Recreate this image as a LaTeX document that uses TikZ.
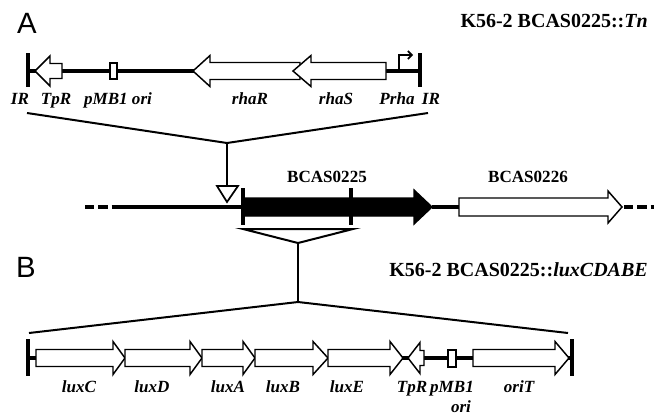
\documentclass[tikz,border=0pt]{standalone}
\usepackage{fontspec}
\setmainfont{Liberation Serif}
\newfontfamily\panelfont{Liberation Sans}
\usetikzlibrary{arrows.meta}
% #1 body end, #2 head base, #3 tip, #4 centre y, #5 body half, #6 head half, #7 fill
\newcommand\geneshape[7]{%
  \draw[geneline,fill=#7] (#1,{#4-#5}) -- (#2,{#4-#5}) -- (#2,{#4-#6}) -- (#3,#4)
    -- (#2,{#4+#6}) -- (#2,{#4+#5}) -- (#1,{#4+#5}) -- cycle;}
\begin{document}
\begin{tikzpicture}[x=0.75pt,y=-0.75pt,
  geneline/.style={line width=1.1pt,line join=miter},
  dna/.style={line width=3.2pt},
  irbar/.style={line width=3.6pt},
  thinline/.style={line width=1.5pt},
  lab/.style={font=\fontsize{12.8}{14}\selectfont\bfseries\itshape,inner sep=0pt,anchor=base},
  gname/.style={font=\fontsize{12.8}{14}\selectfont\bfseries,inner sep=0pt,anchor=base},
  ttl/.style={font=\fontsize{15}{17}\selectfont\bfseries,inner sep=0pt,anchor=base east},
  panel/.style={font=\panelfont\fontsize{22}{24}\selectfont,inner sep=0pt,anchor=base}]
\useasboundingbox (0,0) rectangle (663,415);

% ---------- panel labels and titles
\node[panel] (pA) at (27,33) {A};
\node[panel] (pB) at (26,277) {B};
\node[ttl] (tA) at (648,27) {K56-2 BCAS0225::\textit{Tn}};
\node[ttl] (tB) at (648,276) {K56-2 BCAS0225::\textit{luxCDABE}};

% ---------- top construct (transposon)
\draw[dna] (62,71) -- (385,71);
\draw[dna] (385,71) -- (420,71);
\draw[irbar] (28,53) -- (28,87);
\draw[irbar] (420,53) -- (420,87);
\draw[dna] (28,71) -- (36,71);
\geneshape{62}{50}{35}{71}{7.5}{15}{white}
\draw[geneline,fill=white] (110,63) rectangle (117,79);
\geneshape{300}{210}{193}{71}{8.5}{15.5}{white}
\geneshape{386}{311}{293}{71}{8.5}{15.5}{white}
\coordinate (prS) at (399,71);
\coordinate (prT) at (413,55);
\draw[line width=1.2pt,-{Straight Barb[length=3pt,width=6pt]}] (prS) |- (prT);

\node[lab] (lIR1) at (20,104) {IR};
\node[lab] (lTp1) at (56,104) {TpR};
\node[lab] (lpm1) at (118,104) {pMB1 ori};
\node[lab] (lrR) at (250,104) {rhaR};
\node[lab] (lrS) at (336,104) {rhaS};
\node[lab] (lPr) at (397,104) {Prha};
\node[lab] (lIR2) at (431,104) {IR};

% ---------- insertion lines top
\coordinate (tl) at (27,113);
\coordinate (tr) at (428,113);
\coordinate (tapex) at (227,143);
\coordinate (tdown) at (227,186);
\draw[thinline] (tl) -- (tapex) -- (tr);
\draw[thinline] (tapex) -- (tdown);
\draw[line width=1.3pt,line join=miter] (217,186) -- (238,186) -- (227,202) -- cycle;

% ---------- chromosome
\draw[line width=3.4pt,dash pattern=on 7 off 3] (85,207) -- (112,207);
\draw[line width=3.4pt] (112,207) -- (243,207);
\draw[line width=3.4pt] (432,207) -- (459,207);
\draw[line width=3.4pt,dash pattern=on 7 off 3] (624,207) -- (654,207);
\geneshape{243}{414}{432}{207}{9}{17}{black}
\geneshape{459}{608}{622}{207}{9}{16}{white}
\draw[irbar] (243,188) -- (243,225);
\draw[irbar] (351,188) -- (351,225);
\node[gname] (g25) at (327,182) {BCAS0225};
\node[gname] (g26) at (528,182) {BCAS0226};

% ---------- insertion lines bottom
\coordinate (bl) at (243,229);
\coordinate (br) at (353,229);
\coordinate (bapex) at (298,243);
\coordinate (bdown) at (298,302);
\coordinate (bbl) at (29,333);
\coordinate (bbr) at (568,333);
\draw[thinline,line join=miter] (bl) -- (br) -- (bapex) -- cycle;
\draw[thinline] (bapex) -- (bdown);
\draw[thinline] (bbl) -- (bdown) -- (bbr);

% ---------- bottom construct (lux)
\draw[irbar] (28,339) -- (28,376);
\draw[irbar] (572,339) -- (572,376);
\draw[dna] (28,358) -- (36,358);
\draw[dna] (400,358) -- (410,358);
\draw[dna] (422,358) -- (474,358);
\draw[dna] (566,358) -- (572,358);
\geneshape{36}{113}{125}{358}{8.5}{16.5}{white}
\geneshape{125}{190}{202}{358}{8.5}{16.5}{white}
\geneshape{202}{243}{255}{358}{8.5}{16.5}{white}
\geneshape{255}{313}{328}{358}{8.5}{16.5}{white}
\geneshape{328}{390}{403}{358}{8.5}{16.5}{white}
\geneshape{424}{420}{408}{358}{7.5}{15.5}{white}
\draw[geneline,fill=white] (448,350) rectangle (456,367);
\geneshape{473}{555}{569}{358}{8.5}{16.5}{white}

\node[lab] (lC) at (79,392) {luxC};
\node[lab] (lD) at (152,392) {luxD};
\node[lab] (lA) at (228,392) {luxA};
\node[lab] (lB) at (283,392) {luxB};
\node[lab] (lE) at (347,392) {luxE};
\node[lab] (lTp2) at (412,392) {TpR};
\node[lab] (lpm2) at (452,392) {pMB1};
\node[lab] (lori) at (461,412) {ori};
\node[lab] (loT) at (519,392) {oriT};
\end{tikzpicture}
\end{document}
